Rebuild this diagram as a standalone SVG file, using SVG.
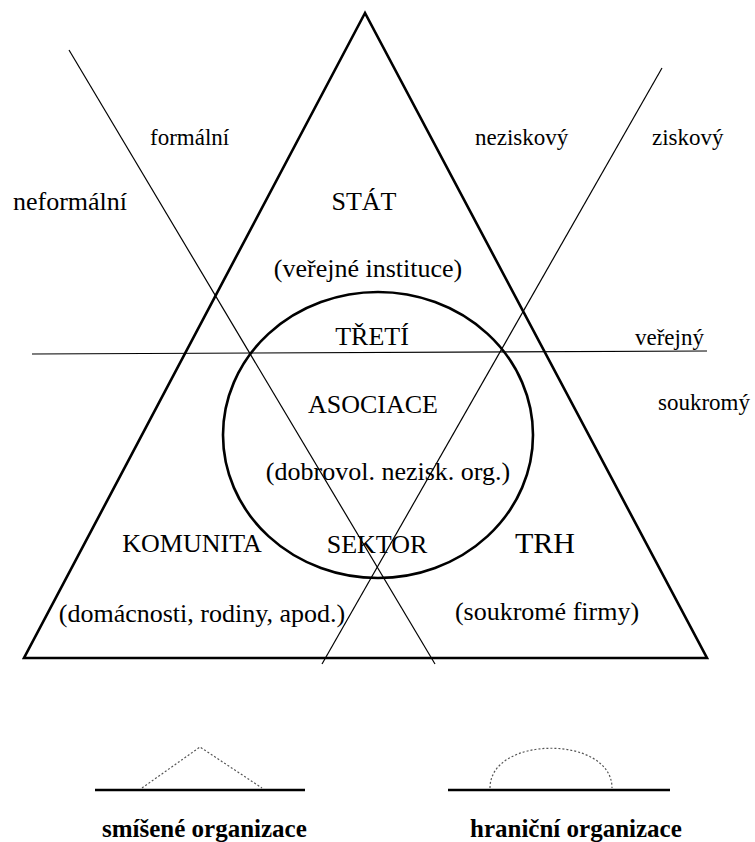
<svg xmlns="http://www.w3.org/2000/svg" width="755" height="842" viewBox="0 0 755 842">
<style>
text{font-family:"Liberation Serif","Times New Roman",serif;fill:#000}
.m{font-size:26px}
.s{font-size:23px}
.b{font-size:25px;font-weight:bold}
.thick{fill:none;stroke:#000;stroke-width:2.6}
.thin{fill:none;stroke:#000;stroke-width:1.2}
.dot{fill:none;stroke:#555;stroke-width:1.2;stroke-dasharray:2 2}
</style>
<rect width="755" height="842" fill="#fff"/>
<g id="triangle"><polygon class="thick" points="365,13 24,658 707,658" stroke-linejoin="miter"/></g>
<g id="circle"><ellipse class="thick" cx="378" cy="435" rx="155" ry="143"/></g>
<g id="connectors">
<line class="thin" x1="32" y1="354" x2="707" y2="351" stroke-width="1.6"/>
<line class="thin" x1="69" y1="50" x2="435" y2="664"/>
<line class="thin" x1="662" y1="68" x2="322" y2="664"/>
</g>
<g id="labels">
<text class="s" x="150" y="145">formální</text>
<text class="m" x="13" y="210">neformální</text>
<text class="s" x="475" y="145">neziskový</text>
<text class="s" x="652" y="145">ziskový</text>
<text class="s" x="635" y="345">veřejný</text>
<text class="s" x="658" y="410">soukromý</text>
</g>
<g id="stat"><text class="m" x="364" y="210" text-anchor="middle">STÁT</text>
<text class="m" x="368" y="277" text-anchor="middle">(veřejné instituce)</text></g>
<g id="treti"><text class="m" x="372" y="345" text-anchor="middle">TŘETÍ</text>
<text class="m" x="373" y="413" text-anchor="middle">ASOCIACE</text>
<text class="m" x="388" y="480" text-anchor="middle">(dobrovol. nezisk. org.)</text>
<text class="m" x="377" y="553" text-anchor="middle">SEKTOR</text></g>
<g id="komunita"><text class="m" x="192" y="552" text-anchor="middle">KOMUNITA</text>
<text class="m" x="202" y="622" text-anchor="middle">(domácnosti, rodiny, apod.)</text></g>
<g id="trh"><text x="545" y="553" text-anchor="middle" font-size="30">TRH</text>
<text class="m" x="547" y="620" text-anchor="middle">(soukromé firmy)</text></g>
<g id="legend-mixed">
<line class="thick" x1="95" y1="790" x2="305" y2="790"/>
<polyline class="dot" points="142,788 200,747 262,788"/>
<text class="b" x="102" y="837">smíšené organizace</text>
</g>
<g id="legend-boundary">
<line class="thick" x1="448" y1="790" x2="670" y2="790"/>
<path class="dot" d="M490,788 C490,735 612,735 612,788"/>
<text class="b" x="470" y="837">hraniční organizace</text>
</g>
</svg>
